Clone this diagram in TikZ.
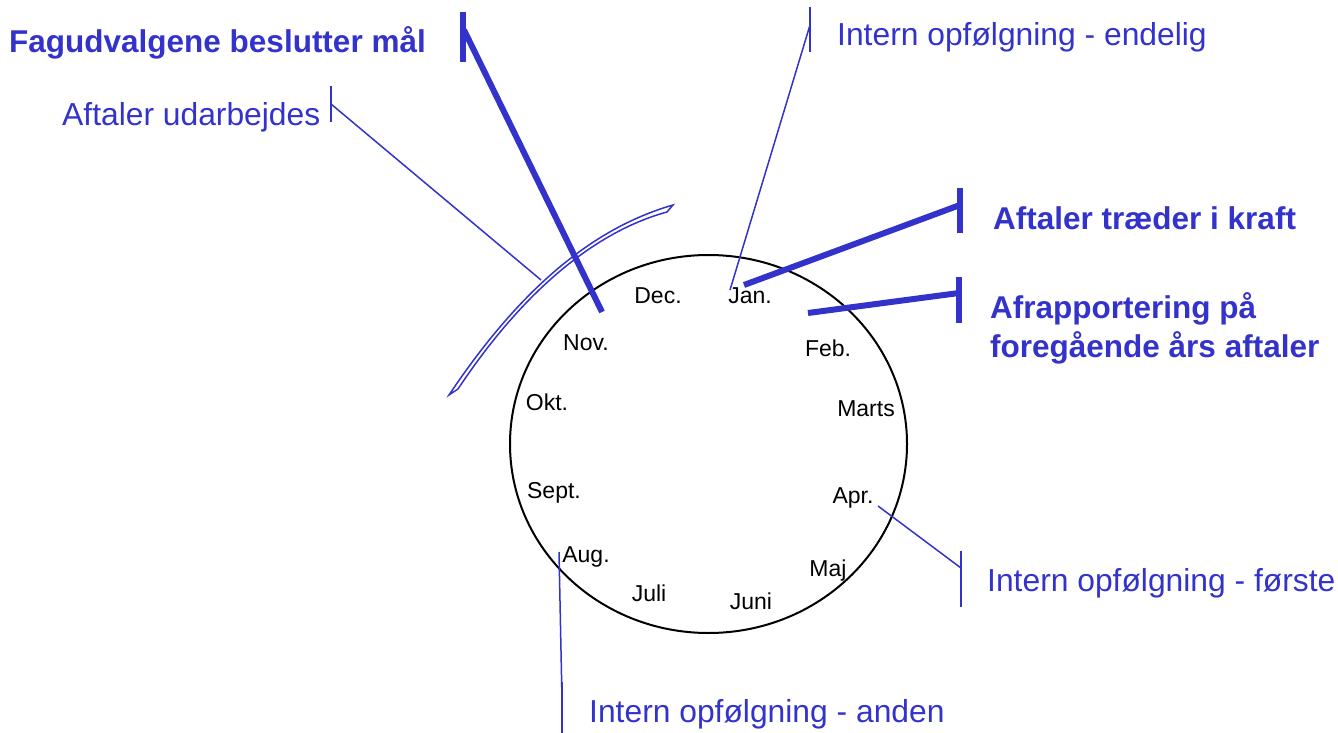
\documentclass[tikz,border=0pt]{standalone}
\usepackage{fontspec}
\setmainfont{Liberation Sans}
\usetikzlibrary{shapes.geometric}
\definecolor{lblue}{RGB}{51,51,204}
\begin{document}
\begin{tikzpicture}[x=1pt,y=-1pt,
  lbl/.style={text=lblue, font=\fontsize{31.8}{39}\selectfont, inner sep=0pt, anchor=base west},
  blbl/.style={text=lblue, font=\fontsize{31.5}{39}\selectfont\bfseries, inner sep=0pt, anchor=base west},
  month/.style={font=\fontsize{23}{27}\selectfont, inner sep=0pt, anchor=base},
  thinline/.style={draw=lblue, line width=1.5pt},
  thickline/.style={draw=lblue, line width=6pt},
]
\useasboundingbox (0,0) rectangle (1338,733);

% year wheel
\node[draw, line width=2pt, ellipse, minimum width=397pt, minimum height=378pt, inner sep=0pt] (wheel) at (708.5,444) {};

% months
\node[month] (jan) at (750,303) {Jan.};
\node[month] (feb) at (828,356) {Feb.};
\node[month] (mar) at (866,416) {Marts};
\node[month] (apr) at (853,503) {Apr.};
\node[month] (maj) at (828,576) {Maj};
\node[month] (jun) at (751,609) {Juni};
\node[month] (jul) at (649,601) {Juli};
\node[month] (aug) at (586,562) {Aug.};
\node[month] (sep) at (554,498) {Sept.};
\node[month] (okt) at (547,410) {Okt.};
\node[month] (nov) at (586,350) {Nov.};
\node[month] (dec) at (658,303) {Dec.};

% labels
\node[blbl] (fag) at (9,53) {Fagudvalgene beslutter mål};
\node[lbl] (udarb) at (62,125) {Aftaler udarbejdes};
\node[lbl] (endelig) at (837,46) {Intern opfølgning - endelig};
\node[blbl] (kraft) at (993,229) {Aftaler træder i kraft};
\node[blbl] (afr1) at (990,318) {Afrapportering på};
\node[blbl] (afr2) at (990,357) {foregående års aftaler};
\node[lbl] (forste) at (987,591) {Intern opfølgning - første};
\node[lbl] (anden) at (589,722) {Intern opfølgning - anden};

% crescent band
\draw[lblue, line width=1.5pt] (449,395) .. controls (518,292) and (590,229) .. (673,205)
  -- (667,212) .. controls (592,232.5) and (520,295.5) .. (458,389) -- cycle;

% leader coordinates
\coordinate (fagT) at (463,12); \coordinate (fagB) at (463,62);
\coordinate (fagM) at (464,30); \coordinate (fagE) at (602,312);
\coordinate (udT) at (331,86); \coordinate (udB) at (331,122);
\coordinate (udM) at (331,104); \coordinate (udE) at (541,280);
\coordinate (enT) at (810,7); \coordinate (enB) at (810,52);
\coordinate (enM) at (810,25); \coordinate (enE) at (730,290);
\coordinate (krT) at (960,188); \coordinate (krB) at (960,233);
\coordinate (krM) at (960,205); \coordinate (krE) at (744,285);
\coordinate (afT) at (959,277); \coordinate (afB) at (959,323);
\coordinate (afM) at (959,293); \coordinate (afE) at (808,313);
\coordinate (foT) at (961,551); \coordinate (foB) at (961,607);
\coordinate (foM) at (961,568); \coordinate (foE) at (878,506);
\coordinate (anT) at (562,682); \coordinate (anB) at (562,735);
\coordinate (anM) at (562,700); \coordinate (anE) at (559,552);

% leaders
\draw[thickline] (fagT) -- (fagB);
\draw[thickline] (fagM) -- (fagE);
\draw[thinline] (udT) -- (udB);
\draw[thinline] (udM) -- (udE);
\draw[thinline] (enT) -- (enB);
\draw[thinline] (enM) -- (enE);
\draw[thickline] (krT) -- (krB);
\draw[thickline] (krM) -- (krE);
\draw[thickline] (afT) -- (afB);
\draw[thickline] (afM) -- (afE);
\draw[thinline] (foT) -- (foB);
\draw[thinline] (foM) -- (foE);
\draw[thinline] (anT) -- (anB);
\draw[thinline] (anM) -- (anE);
\end{tikzpicture}
\end{document}
